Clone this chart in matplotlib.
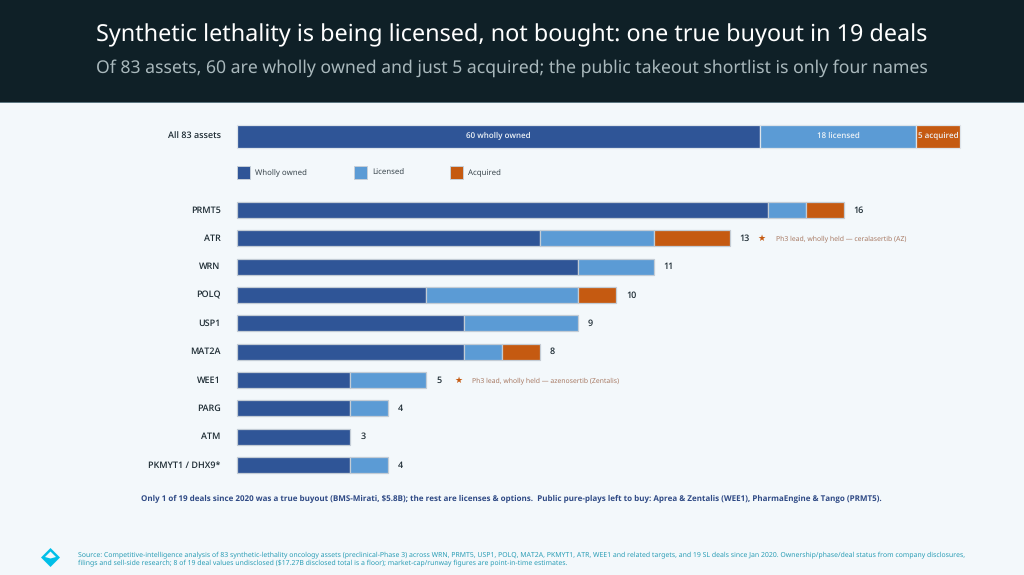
import numpy as np
import matplotlib
matplotlib.use("Agg")
import matplotlib.pyplot as plt
from matplotlib.patches import Polygon, Rectangle

################################################################
targets = ["PRMT5", "ATR", "WRN", "POLQ", "USP1", "MAT2A", "WEE1", "PARG", "ATM", "PKMYT1 / DHX9*"]
owned = [14, 8, 9, 5, 6, 6, 3, 3, 3, 3]
licensed = [1, 3, 2, 4, 3, 1, 2, 1, 0, 1]
acquired = [1, 2, 0, 1, 0, 1, 0, 0, 0, 0]
totals = [16, 13, 11, 10, 9, 8, 5, 4, 3, 4]
notes = {"ATR": "Ph3 lead, wholly held \u2014 ceralasertib (AZ)",
         "WEE1": "Ph3 lead, wholly held \u2014 azenosertib (Zentalis)"}
all_values = [60, 18, 5]
all_labels = ["60 wholly owned", "18 licensed", "5 acquired"]
legend_labels = ["Wholly owned", "Licensed", "Acquired"]
colors = ["#2f5597", "#5b9bd5", "#c55a11"]
################################################################

W, H = 1024, 575
BG = "#f3f8fb"
SEMI = "Open Sans"  # Noto Sans has no semibold here
plt.rcParams["font.family"] = ["Noto Sans", "DejaVu Sans"]
plt.rcParams["text.hinting"] = "no_hinting"
plt.rcParams["text.hinting_factor"] = 1

fig = plt.figure(figsize=(W / 100, H / 100), dpi=100, facecolor=BG)


def px_axes(x0, y0, x1, y1):
    # pixel box measured from the top left of the picture
    return fig.add_axes([x0 / W, 1 - y1 / H, (x1 - x0) / W, (y1 - y0) / H])


def put(x, y, s, size, color, ha="left", **kw):
    # y is the text baseline in pixels
    fig.text(x / W, 1 - y / H, s, fontsize=size, color=color, ha=ha, va="baseline", **kw)


# header band
fig.add_artist(Rectangle((0, 1 - 102 / H), 1, 102 / H, transform=fig.transFigure, fc="#0f2027", ec="none"))
fig.add_artist(Rectangle((0, 1 - 103 / H), 1, 1 / H, transform=fig.transFigure, fc="#5d7680", ec="none"))
put(511.5, 41, "Synthetic lethality is being licensed, not bought: one true buyout in 19 deals", 16.85, "white", ha="center")
put(511.5, 73, "Of 83 assets, 60 are wholly owned and just 5 acquired; the public takeout shortlist is only four names", 12.69, "#a9b8bc", ha="center")

# all assets bar
top = px_axes(236.5, 124.5, 960, 147.5)
top.axis("off")
top.set_xlim(0, sum(all_values))
top.set_ylim(0, 1)
left = 0
for v, c, lab in zip(all_values, colors, all_labels):
    top.barh(0.5, v, left=left, height=1, color=c, edgecolor="#dde4ea", linewidth=0.9, clip_on=False)
    top.text(left + v / 2, 0.41, lab, color="#eef3f7", fontsize=5.6, ha="center", va="baseline",
             family=SEMI, weight="semibold")
    left += v
put(221, 138, "All 83 assets", 6.7, "#1f2d35", ha="right", family=SEMI, weight="semibold")

# legend
for x, lab, c in zip([237, 354, 450], legend_labels, colors):
    fig.add_artist(Rectangle((x / W, 1 - 179 / H), 13 / W, 13 / H, transform=fig.transFigure, fc=c, ec="#c6cfd8", lw=0.7))
    put(x + 18, 175.2, lab, 5.65, "#3a464d")

# target bars
ax = px_axes(236.5, 195.83, 843.5, 479.17)
ax.axis("off")
ax.set_xlim(0, 16)
ax.set_ylim(9.5, -0.5)
y = np.arange(len(targets))
lefts = np.zeros(len(targets))
for vals, c in zip([owned, licensed, acquired], colors):
    vals = np.array(vals)
    ax.barh(y[vals > 0], vals[vals > 0], left=lefts[vals > 0], height=0.565, color=c,
            edgecolor="#c3ccd5", linewidth=0.9, clip_on=False)
    lefts += vals

for i, name in enumerate(targets):
    ax.annotate(name, (0, i), xytext=(-16, -2.7), textcoords="offset pixels", ha="right", va="baseline",
                fontsize=6.7, color="#1f2d35", family=SEMI, weight="semibold", annotation_clip=False)
    ax.annotate(str(totals[i]), (lefts[i], i), xytext=(10, -2.7), textcoords="offset pixels", ha="left", va="baseline",
                fontsize=6.3, color="#1f2d35", family=SEMI, weight="semibold", annotation_clip=False)
    if name in notes:
        ax.annotate("\u2605", (lefts[i], i), xytext=(28, -2.7), textcoords="offset pixels", ha="left", va="baseline",
                    fontsize=6.3, color="#c55a11", family="DejaVu Sans", annotation_clip=False)
        ax.annotate(notes[name], (lefts[i], i), xytext=(46, -2.5), textcoords="offset pixels", ha="left", va="baseline",
                    fontsize=4.93, color="#a87a64", annotation_clip=False)

# takeaway line
put(511, 501.3, "Only 1 of 19 deals since 2020 was a true buyout (BMS-Mirati, $5.8B); the rest are licenses & options.  "
    "Public pure-plays left to buy: Aprea & Zentalis (WEE1), PharmaEngine & Tango (PRMT5).", 5.9, "#2f4a85", ha="center",
    family=SEMI, weight="bold")

# footer
fig.add_artist(Polygon([(50.5 / W, 1 - 548 / H), (60 / W, 1 - 557.5 / H), (50.5 / W, 1 - 567 / H), (41 / W, 1 - 557.5 / H)],
                       transform=fig.transFigure, fc="#00bfe8", ec="none"))
fig.add_artist(Polygon([(50.5 / W, 1 - 551.5 / H), (56 / W, 1 - 557 / H), (50.5 / W, 1 - 558.5 / H), (45 / W, 1 - 557 / H)],
                       transform=fig.transFigure, fc=BG, ec="none"))
put(78, 556, "Source: Competitive-intelligence analysis of 83 synthetic-lethality oncology assets (preclinical-Phase 3) across WRN, PRMT5, USP1, POLQ, MAT2A, PKMYT1, ATR, WEE1 and related targets, and 19 SL deals since Jan 2020. Ownership/phase/deal status from company disclosures,", 4.98, "#2a9db5")
put(78, 564, "filings and sell-side research; 8 of 19 deal values undisclosed ($17.27B disclosed total is a floor); market-cap/runway figures are point-in-time estimates.", 4.98, "#2a9db5")

fig.savefig("out.png", dpi=100, facecolor=BG)
